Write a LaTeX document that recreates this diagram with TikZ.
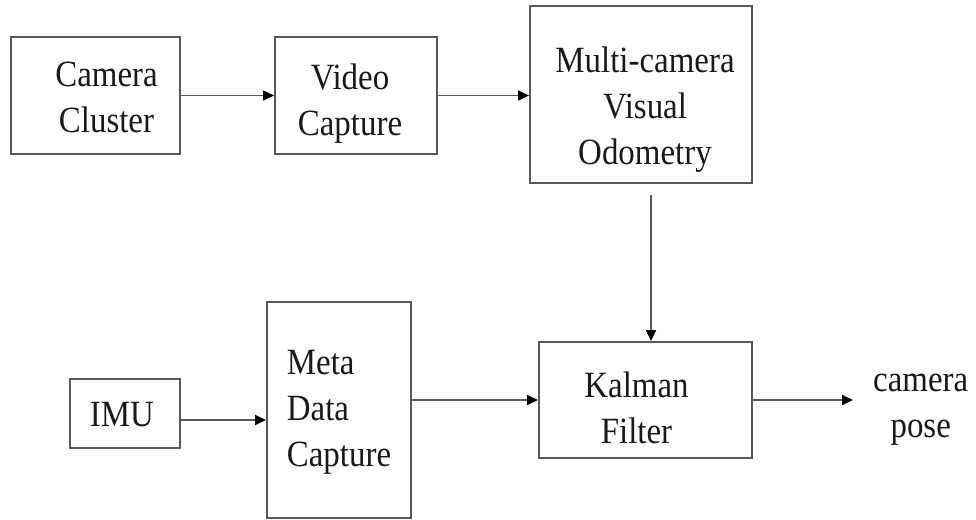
\documentclass[tikz,border=0pt]{standalone}
\usepackage{fontspec}
\setmainfont{Liberation Serif}[FakeStretch=0.89]
\usetikzlibrary{arrows.meta}

\tikzset{
  block/.style={draw=black!65, line width=2pt, rectangle, inner sep=0pt},
  txt/.style={align=center, inner sep=0pt, font=\fontsize{37}{46}\selectfont, text=black!90},
  flow/.style={draw=black!65, line width=1.6pt, -{Triangle[length=11pt,width=10pt,fill=black,color=black]}}
}

\begin{document}
\begin{tikzpicture}[x=1pt,y=-1pt]
  % page frame
  \path[fill=white] (0,0) rectangle (976,519);
  \useasboundingbox (0,0) rectangle (976,519);

  % top row: camera pipeline
  \node[block, minimum width=169pt, minimum height=117pt,
        label={[txt, xshift=11pt, yshift=-2pt]center:Camera\\Cluster}] (cam) at (95.5,95.5) {};
  \node[block, minimum width=162pt, minimum height=117pt,
        label={[txt, xshift=-6pt, yshift=-8pt]center:Video\\Capture}] (vid) at (356,95.5) {};
  \node[block, minimum width=222pt, minimum height=177pt,
        label={[txt, xshift=4pt, yshift=-15pt]center:Multi-camera\\Visual\\Odometry}] (mcvo) at (641,94.5) {};

  % bottom row: inertial pipeline and filter
  \node[block, minimum width=110pt, minimum height=69pt,
        label={[txt, xshift=-3pt, yshift=-1pt]center:IMU}] (imu) at (125,413.5) {};
  \node[block, minimum width=144pt, minimum height=216pt,
        label={[txt, align=left, xshift=0pt, yshift=-2pt]center:Meta\\Data\\Capture}] (meta) at (339,410) {};
  \node[block, minimum width=213pt, minimum height=116pt,
        label={[txt, xshift=-9pt, yshift=-8pt]center:Kalman\\Filter}] (kal) at (645.5,400) {};
  \node[txt, anchor=west] (pose) at (873,410) {camera\\pose};

  % connectors
  \draw[flow] (cam.east) -- (vid.west);
  \draw[flow] (vid.east) -- (vid.east -| mcvo.west);
  \draw[flow, shorten <=11pt] ([xshift=10pt]mcvo.south) -- ([xshift=10pt]mcvo.south |- kal.north);
  \draw[flow] ([yshift=-6.5pt]imu.east) -- ([yshift=-6.5pt]imu.east -| meta.west);
  \draw[flow] ([yshift=10pt]meta.east) -- ([yshift=10pt]meta.east -| kal.west);
  \draw[flow, shorten >=20pt] (kal.east) -- (kal.east -| pose.west);
\end{tikzpicture}
\end{document}
